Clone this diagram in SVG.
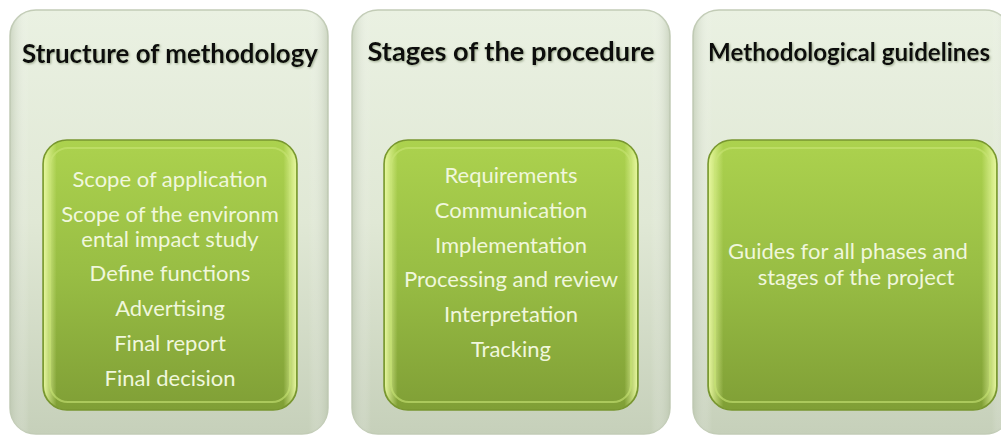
<svg xmlns="http://www.w3.org/2000/svg" width="1001" height="436" viewBox="0 0 1001 436">
<defs>
<linearGradient id="gOuter" x1="0" y1="0" x2="0" y2="1">
<stop offset="0" stop-color="#eaf1e2"/>
<stop offset="0.5" stop-color="#e0e8d5"/>
<stop offset="1" stop-color="#c6d0ba"/>
</linearGradient>
<linearGradient id="gOuterSide" x1="0" y1="0" x2="1" y2="0">
<stop offset="0" stop-color="#b9c4ad" stop-opacity="0.6"/>
<stop offset="0.06" stop-color="#ffffff" stop-opacity="0"/>
<stop offset="0.94" stop-color="#ffffff" stop-opacity="0"/>
<stop offset="1" stop-color="#b9c4ad" stop-opacity="0.6"/>
</linearGradient>
<linearGradient id="gInner" x1="0" y1="0" x2="0" y2="1">
<stop offset="0" stop-color="#acd24e"/>
<stop offset="0.5" stop-color="#98bd44"/>
<stop offset="1" stop-color="#809f36"/>
</linearGradient>
<linearGradient id="gBevel" x1="0" y1="0" x2="1" y2="0">
<stop offset="0" stop-color="#e8f8a0" stop-opacity="0.95"/>
<stop offset="0.05" stop-color="#e8f8a0" stop-opacity="0"/>
<stop offset="0.95" stop-color="#e8f8a0" stop-opacity="0"/>
<stop offset="1" stop-color="#e8f8a0" stop-opacity="0.95"/>
</linearGradient>
<filter id="shadow" x="-5%" y="-20%" width="110%" height="140%">
<feDropShadow dx="1" dy="1" stdDeviation="0.8" flood-color="#6d7d5c" flood-opacity="0.6"/>
</filter>
</defs>
<style>
.outer{fill:url(#gOuter);stroke:#c2ccb6;stroke-width:1.5}
.oside{fill:url(#gOuterSide)}
.inner{fill:url(#gInner);stroke:#789630;stroke-width:1.5}
.bevel{fill:url(#gBevel)}
.bevelline{fill:none;stroke:#c8e475;stroke-width:2;stroke-opacity:0.6}
.title{font-family:Lato,"Liberation Sans",sans-serif;font-weight:bold;font-size:26px;fill:#0a0a0a;text-anchor:middle}
.item{font-family:Lato,"Liberation Sans",sans-serif;font-size:22px;fill:#f0f7dc;text-anchor:middle}
</style>
<rect width="1001" height="436" fill="#ffffff"/>

<g id="panel1">
<rect class="outer" x="10" y="10" width="318" height="424" rx="26"/>
<rect class="oside" x="10" y="10" width="318" height="424" rx="26"/>
<text class="title" x="170" y="63" textLength="296" lengthAdjust="spacingAndGlyphs" filter="url(#shadow)">Structure of methodology</text>
<rect class="inner" x="43" y="140" width="254" height="270" rx="24"/>
<rect class="bevel" x="44" y="141" width="252" height="268" rx="23"/>
<rect class="bevelline" x="50" y="148" width="240" height="254" rx="18"/>
<text class="item" x="170" y="187">Scope of application</text>
<text class="item" x="170" y="222">Scope of the environm</text>
<text class="item" x="170" y="247">ental impact study</text>
<text class="item" x="170" y="281">Define functions</text>
<text class="item" x="170" y="316">Advertising</text>
<text class="item" x="170" y="351">Final report</text>
<text class="item" x="170" y="386">Final decision</text>
</g>

<g id="panel2">
<rect class="outer" x="352" y="10" width="318" height="424" rx="26"/>
<rect class="oside" x="352" y="10" width="318" height="424" rx="26"/>
<text class="title" x="511" y="61" textLength="287" lengthAdjust="spacingAndGlyphs" filter="url(#shadow)">Stages of the procedure</text>
<rect class="inner" x="384" y="140" width="254" height="270" rx="24"/>
<rect class="bevel" x="385" y="141" width="252" height="268" rx="23"/>
<rect class="bevelline" x="391" y="148" width="240" height="254" rx="18"/>
<text class="item" x="511" y="183">Requirements</text>
<text class="item" x="511" y="218">Communication</text>
<text class="item" x="511" y="253">Implementation</text>
<text class="item" x="511" y="287">Processing and review</text>
<text class="item" x="511" y="322">Interpretation</text>
<text class="item" x="511" y="357">Tracking</text>
</g>

<g id="panel3">
<rect class="outer" x="693" y="10" width="318" height="424" rx="26"/>
<rect class="oside" x="693" y="10" width="318" height="424" rx="26"/>
<text class="title" x="849" y="61" font-size="24" textLength="282" lengthAdjust="spacingAndGlyphs" filter="url(#shadow)" style="font-size:24px">Methodological guidelines</text>
<rect class="inner" x="708" y="140" width="289" height="270" rx="24"/>
<rect class="bevel" x="709" y="141" width="287" height="268" rx="23"/>
<rect class="bevelline" x="715" y="148" width="275" height="254" rx="18"/>
<text class="item" x="848" y="259">Guides for all phases and</text>
<text class="item" x="856" y="285">stages of the project</text>
</g>

<g id="connectors"/>
</svg>
